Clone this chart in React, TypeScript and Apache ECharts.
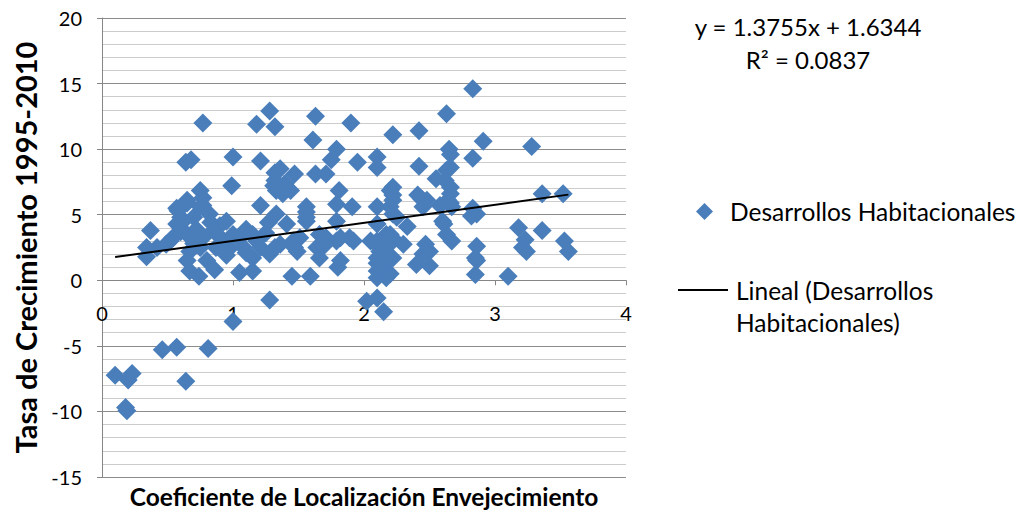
import React, { useEffect, useRef } from "react";
import * as echarts from "echarts";

const coefLoc = [
  2.83, 1.28, 1.18, 1.32, 0.77, 1.63, 1.90, 2.63, 1.61, 2.22, 2.42, 2.91, 3.28, 2.65, 2.66, 1.79,
  0.68, 0.64, 1.00, 1.21, 1.75, 1.95, 2.10, 2.10, 2.42, 2.83, 2.66,
  1.36, 1.32, 1.47, 1.63, 1.71, 2.63, 2.55, 2.62, 1.32, 1.40, 1.31,
  0.99, 0.75, 1.44, 1.81, 2.22, 2.66, 1.33, 1.38, 2.20, 2.66, 3.36, 3.52, 2.22, 2.41, 2.48, 2.44, 2.64, 2.22, 0.65, 0.77,
  0.65, 0.57, 0.77, 1.21, 0.75, 1.56, 1.56, 1.79, 1.91, 2.10, 2.20, 2.45, 2.58, 2.67, 2.66, 2.83,
  0.58, 0.82, 1.33, 2.22, 2.82, 2.86,
  0.60, 0.70, 0.62, 0.57, 0.95, 0.90, 1.41, 1.56, 1.56, 1.79, 2.10, 2.25, 2.33, 2.61, 2.60, 3.18, 3.36,
  0.37, 0.65, 0.77, 0.85, 1.00, 1.10, 1.15, 0.54, 1.66, 2.17, 2.20, 2.63,
  0.49, 0.52, 0.34, 0.34, 0.42, 1.46, 1.79, 1.92, 2.05, 2.10, 2.22, 1.89, 1.82, 1.71, 1.51, 2.67, 3.23, 3.53,
  0.67, 0.75, 0.87, 0.98, 1.08, 1.21, 1.32, 1.36, 1.47, 1.64, 1.69, 2.12, 2.18, 2.30, 2.47, 2.86, 3.21, 3.24, 3.56,
  1.28, 1.49, 2.12, 2.45, 2.50,
  1.15, 0.80, 0.65, 1.66, 1.82, 2.10, 2.22, 2.85, 2.86,
  1.80, 2.10, 2.17, 2.40, 2.50,
  0.67, 0.74, 0.86, 1.05, 1.15, 1.45, 1.59, 2.10, 2.15, 2.10, 2.17, 2.20, 2.85, 3.10,
  1.28, 2.02, 2.10, 2.15, 1.00,
  0.46, 0.57, 0.81, 0.10, 0.23, 0.20, 0.64, 0.19, 0.18,
  0.72, 0.83, 0.93, 1.05, 1.18, 1.25, 1.27, 0.95, 1.10, 0.60, 0.70, 0.88
];

const tasaCrec = [
  14.6, 12.9, 11.9, 11.7, 12.0, 12.5, 12.0, 12.7, 10.7, 11.1, 11.4, 10.6, 10.2, 10.0, 9.6, 10.0,
  9.2, 9.0, 9.4, 9.1, 9.2, 9.0, 9.4, 8.6, 8.7, 9.3, 8.6,
  8.5, 8.2, 8.1, 8.1, 8.1, 8.4, 7.75, 7.6, 7.6, 7.4, 7.2,
  7.2, 6.85, 6.85, 6.85, 7.1, 7.1, 6.85, 6.6, 6.85, 6.6, 6.6, 6.6, 6.5, 6.5, 6.1, 6.2, 6.1, 6.1, 6.1, 6.3,
  5.9, 5.5, 5.7, 5.7, 5.6, 5.6, 5.2, 5.8, 5.6, 5.6, 5.6, 5.6, 5.7, 5.6, 5.9, 5.5,
  5.3, 5.05, 5.05, 5.05, 4.9, 5.05,
  4.8, 4.8, 4.5, 4.3, 4.5, 4.15, 4.3, 4.5, 4.8, 4.5, 4.3, 4.8, 4.1, 4.3, 4.5, 4.0, 3.8,
  3.8, 3.5, 3.25, 3.8, 3.5, 3.9, 3.5, 3.25, 3.5, 3.5, 3.5, 3.5,
  2.75, 3.0, 2.5, 1.8, 2.5, 3.0, 3.0, 3.0, 3.0, 3.0, 3.2, 3.25, 3.25, 3.25, 3.25, 3.0, 3.1, 3.0,
  2.2, 2.5, 2.5, 2.5, 2.5, 2.5, 2.5, 2.75, 2.5, 2.5, 2.6, 2.5, 2.6, 2.75, 2.75, 2.6, 2.5, 2.2, 2.2,
  2.0, 2.2, 2.2, 2.0, 2.2,
  1.7, 1.5, 1.5, 1.7, 1.5, 1.7, 1.7, 1.7, 1.5,
  1.0, 1.3, 1.3, 1.2, 1.1,
  0.7, 0.3, 0.8, 0.6, 0.7, 0.3, 0.3, 0.2, 0.6, 0.7, 0.2, 0.5, 0.45, 0.3,
  -1.5, -1.6, -1.35, -2.4, -3.15,
  -5.3, -5.1, -5.2, -7.25, -7.1, -7.6, -7.7, -9.95, -9.7,
  3.9, 4.4, 3.0, 3.2, 3.0, 3.6, 4.4, 1.9, 2.1, 3.7, 2.8, 3.5
];

const yTicks = { min: -15, max: 20, interval: 5 };
const xTicks = { min: 0, max: 4, interval: 1 };
const trendSlope = 1.3755;
const trendIntercept = 1.6344;
const trendRangeX = [0.1, 3.56];

const seriesName = "Desarrollos Habitacionales";
const trendName = "Lineal (Desarrollos\nHabitacionales)";
const equationText = "y = 1.3755x + 1.6344";
const r2Text = "R² = 0.0837";
const yTitle = "Tasa de Crecimiento 1995-2010";
const xTitle = "Coeficiente de Localización Envejecimiento";

const FONT = "Lato";
const GRID_TOP = 18;
const GRID_BOTTOM = 35;
const CHART_H = 512;

export default function App() {
  const ref = useRef<HTMLDivElement>(null);
  useEffect(() => {
    document.body.style.margin = "0";
    const chart = echarts.init(ref.current!, undefined, { renderer: "svg" });
    const points = coefLoc.map((x, i) => [x, tasaCrec[i]]);
    const trend = trendRangeX.map((x) => [x, trendSlope * x + trendIntercept]);
    // move the x axis up to the y = 0 line (Excel "crosses at 0")
    const gridH = CHART_H - GRID_TOP - GRID_BOTTOM;
    const zeroFromBottom = (gridH * (0 - yTicks.min)) / (yTicks.max - yTicks.min);
    chart.setOption({
      animation: false,
      textStyle: { fontFamily: FONT },
      grid: { left: 102, right: 397, top: GRID_TOP, bottom: GRID_BOTTOM, outerBoundsMode: "none", containLabel: false },
      xAxis: {
        type: "value",
        min: xTicks.min,
        max: xTicks.max,
        interval: xTicks.interval,
        position: "bottom",
        offset: -zeroFromBottom,
        name: xTitle,
        nameLocation: "middle",
        nameGap: 204,
        nameTextStyle: { fontFamily: FONT, fontSize: 24.5, fontWeight: "bold", color: "#000" },
        axisLine: { onZero: false, lineStyle: { color: "#868686", width: 1 } },
        axisTick: { show: true, length: 5, lineStyle: { color: "#868686" } },
        axisLabel: { margin: 23, fontFamily: FONT, fontSize: 20, color: "#000" },
        splitLine: { show: false },
      },
      yAxis: {
        type: "value",
        min: yTicks.min,
        max: yTicks.max,
        interval: yTicks.interval,
        name: yTitle,
        nameLocation: "middle",
        nameGap: 55,
        nameTextStyle: { fontFamily: FONT, fontSize: 29, fontWeight: "bold", color: "#000" },
        axisLine: { show: true, onZero: false, lineStyle: { color: "#868686", width: 1 } },
        axisTick: { show: true, length: 5, lineStyle: { color: "#868686" } },
        axisLabel: { margin: 20, fontFamily: FONT, fontSize: 20, color: "#000" },
        splitLine: { show: true, lineStyle: { color: "#8C8C8C", width: 1 } },
        minorTick: { show: false, splitNumber: 5 },
        minorSplitLine: { show: true, lineStyle: { color: "#CCCCCC", width: 1 } },
      },
      legend: [
        {
          data: [seriesName],
          left: 691,
          top: 194,
          orient: "vertical",
          icon: "diamond",
          itemWidth: 17,
          itemHeight: 17,
          textStyle: { fontFamily: FONT, fontSize: 24.5, color: "#000", padding: [0, 0, 0, 12] },
        },
        {
          data: [trendName],
          left: 673,
          top: 237,
          orient: "vertical",
          icon: "rect",
          itemWidth: 50,
          itemHeight: 2,
          formatter: (name: string) => " \n" + name,
          textStyle: {
            fontFamily: FONT,
            fontSize: 24.5,
            color: "#000",
            lineHeight: 32,
            padding: [0, 0, 0, 3],
          },
        },
      ],
      graphic: [
        {
          type: "text",
          x: 808,
          y: 26,
          style: {
            text: equationText,
            fontFamily: FONT,
            fontSize: 24,
            fill: "#000",
            textAlign: "center",
            textVerticalAlign: "middle",
          },
        },
        {
          type: "text",
          x: 808,
          y: 59,
          style: {
            text: r2Text,
            fontFamily: FONT,
            fontSize: 24,
            fill: "#000",
            textAlign: "center",
            textVerticalAlign: "middle",
          },
        },
      ],
      series: [
        {
          name: seriesName,
          type: "scatter",
          symbol: "diamond",
          symbolSize: 19,
          data: points,
          itemStyle: { color: "#4A7EBB", opacity: 1 },
          z: 2,
        },
        {
          name: trendName,
          type: "line",
          data: trend,
          showSymbol: false,
          symbol: "none",
          lineStyle: { color: "#000", width: 2 },
          itemStyle: { color: "#000" },
          z: 3,
        },
      ],
    });
    return () => chart.dispose();
  }, []);
  return <div ref={ref} style={{ position: "absolute", left: 0, top: 0, width: 1023, height: 512 }} />;
}
